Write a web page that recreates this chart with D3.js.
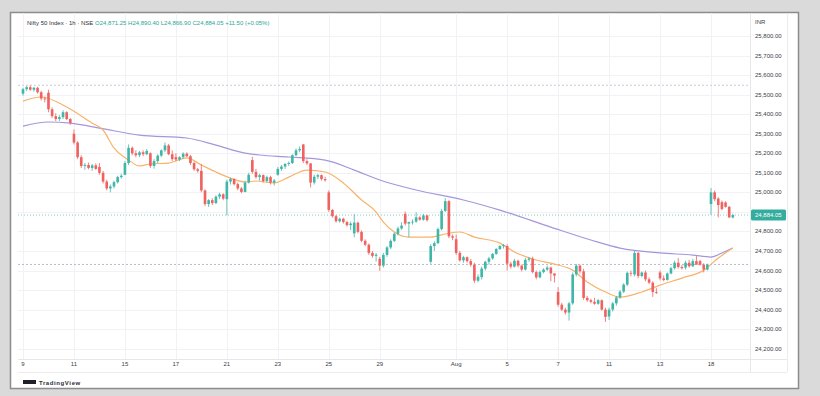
<!DOCTYPE html>
<html>
<head>
<meta charset="utf-8">
<script src="https://cdn.jsdelivr.net/npm/d3@7"></script>
<style>
html,body{margin:0;padding:0;background:#dadada;}
svg{display:block;font-family:"Liberation Sans",Arial,sans-serif;}
</style>
</head>
<body>
<svg id="chart" width="820" height="396"></svg>
<script>
// ---------- DATA ----------
const title = "Nifty 50 Index · 1h · NSE";
const ohlcLabels = ["O24,871.25", "H24,890.40", "L24,866.90", "C24,884.05", "+11.50 (+0.05%)"];
const currency = "INR";
const xTickLabels = ["9", "11", "15", "17", "21", "23", "25", "29", "Aug", "5", "7", "11", "13", "18"];
const xTickBars   = [0, 14, 28, 42, 56, 70, 84, 98, 119, 133, 147, 161, 175, 189];
const yTicks = [25800, 25700, 25600, 25500, 25400, 25300, 25200, 25100, 25000, 24900, 24800, 24700, 24600, 24500, 24400, 24300, 24200];
const lastPrice = 24884.05;
const prevClose = 24631;
const periodHigh = 25548;

// hourly candles [open, high, low, close], 7 per trading day
const opens = [
 25505,25528,25538,25525,25535,25512,25480,
 25510,25425,25390,25375,25385,25410,25375,
 25300,25255,25180,25135,25140,25125,25138,
 25130,25100,25055,25020,25030,25052,25078,
 25090,25150,25228,25200,25190,25205,25195,
 25200,25135,25160,25188,25215,25240,25195,
 25180,25168,25180,25198,25185,25150,25118,
 25110,25010,24940,24960,24945,24978,24990,
 24965,25055,25068,25042,25020,25002,25050,
 25165,25105,25078,25088,25058,25078,25050,
 25090,25120,25132,25145,25150,25190,25215,
 25245,25160,25148,25050,25080,25088,25068,
 25000,24910,24878,24852,24865,24848,24832,
 24790,24845,24798,24752,24732,24690,24675,
 24660,24625,24680,24718,24752,24788,24815,
 24890,24840,24848,24850,24872,24860,24882,
 24645,24725,24740,24812,24905,24955,24775,
 24760,24690,24652,24668,24648,24630,24548,
 24566,24610,24645,24662,24685,24710,24725,
 24725,24635,24620,24650,24625,24605,24655,
 24660,24592,24565,24592,24605,24615,24585,
 24490,24425,24400,24385,24432,24580,24625,
 24596,24460,24448,24440,24430,24448,24400,
 24365,24400,24432,24462,24492,24528,24588,
 24580,24690,24572,24590,24555,24538,24490,
 24590,24560,24552,24585,24612,24640,24618,
 24615,24640,24622,24648,24648,24630,24605,
 24940,25000,24968,24950,24948,24926,24871.25];
const highs = [
 25535,25545,25548,25540,25540,25520,25490,
 25525,25435,25405,25395,25420,25415,25380,
 25322,25262,25190,25150,25152,25145,25148,
 25150,25110,25065,25040,25060,25085,25095,
 25160,25245,25235,25215,25212,25215,25222,
 25205,25170,25195,25220,25255,25248,25215,
 25200,25185,25205,25205,25192,25158,25125,
 25145,25015,24965,24970,24985,24998,24995,
 25065,25075,25072,25050,25028,25060,25100,
 25182,25120,25095,25092,25085,25085,25068,
 25130,25140,25150,25158,25195,25225,25235,
 25248,25170,25150,25090,25095,25092,25080,
 25010,24915,24885,24870,24870,24855,24850,
 24889,24850,24805,24760,24738,24700,24690,
 24670,24690,24725,24760,24795,24825,24847,
 24902,24850,24862,24898,24878,24890,24886,
 24735,24750,24820,24915,24970,24960,24785,
 24784,24700,24675,24672,24660,24640,24580,
 24620,24650,24670,24690,24715,24730,24736,
 24734,24645,24660,24655,24630,24665,24670,
 24671,24600,24600,24612,24625,24620,24585,
 24515,24435,24410,24440,24590,24634,24630,
 24609,24470,24455,24460,24455,24452,24410,
 24410,24440,24470,24500,24535,24595,24600,
 24702,24695,24595,24600,24565,24545,24510,
 24600,24575,24590,24620,24650,24664,24628,
 24650,24655,24660,24674,24655,24638,24635,
 25022,25010,24975,24958,24955,24930,24890.40];
const lows = [
 25495,25518,25520,25515,25505,25470,25460,
 25410,25380,25365,25365,25375,25370,25345,
 25245,25170,25125,25115,25118,25110,25115,
 25090,25045,25010,25000,25020,25045,25070,
 25088,25140,25190,25180,25180,25185,25190,
 25125,25121,25150,25180,25205,25190,25160,
 25160,25160,25172,25180,25140,25110,25100,
 25000,24930,24925,24935,24940,24965,24960,
 24882,25040,25035,25010,24995,25000,25045,
 25095,25070,25060,25050,25050,25040,25035,
 25085,25110,25120,25135,25145,25185,25205,
 25150,25140,25025,25040,25068,25060,25055,
 24900,24870,24845,24845,24840,24825,24807,
 24770,24790,24745,24725,24680,24665,24646,
 24598,24615,24670,24710,24745,24780,24808,
 24830,24771,24835,24845,24855,24855,24850,
 24635,24700,24735,24805,24900,24765,24755,
 24680,24645,24640,24640,24620,24535,24540,
 24554,24600,24630,24655,24680,24705,24712,
 24600,24610,24615,24615,24595,24600,24645,
 24585,24555,24560,24585,24598,24545,24539,
 24415,24392,24375,24344,24425,24570,24585,
 24450,24440,24432,24425,24425,24395,24337,
 24347,24390,24420,24455,24485,24520,24570,
 24570,24560,24565,24545,24530,24465,24480,
 24550,24545,24548,24580,24605,24610,24605,
 24605,24615,24618,24630,24625,24590,24600,
 24885,24955,24872,24908,24922,24868,24866.90];
const closes = [
 25528,25538,25525,25535,25512,25480,25476,
 25425,25390,25375,25385,25410,25375,25355,
 25255,25180,25135,25140,25125,25138,25120,
 25100,25055,25020,25030,25052,25078,25085,
 25150,25228,25200,25190,25205,25195,25212,
 25135,25160,25188,25215,25240,25195,25170,
 25168,25180,25198,25185,25150,25118,25110,
 25010,24940,24960,24945,24978,24990,24968,
 25055,25068,25042,25020,25002,25050,25090,
 25105,25078,25088,25058,25078,25050,25061,
 25120,25132,25145,25150,25190,25215,25222,
 25160,25148,25050,25080,25088,25068,25062,
 24910,24878,24852,24865,24848,24832,24840,
 24845,24798,24752,24732,24690,24675,24681,
 24625,24680,24718,24752,24788,24815,24830,
 24840,24848,24850,24872,24860,24882,24858,
 24725,24740,24812,24905,24955,24775,24768,
 24690,24652,24668,24648,24630,24548,24568,
 24610,24645,24662,24685,24710,24725,24730,
 24635,24620,24650,24625,24605,24655,24662,
 24592,24565,24592,24605,24615,24585,24574,
 24425,24400,24385,24432,24580,24625,24596,
 24460,24448,24440,24430,24448,24400,24363,
 24400,24432,24462,24492,24528,24588,24585,
 24690,24572,24590,24555,24538,24490,24487,
 24560,24552,24585,24612,24640,24618,24612,
 24640,24622,24648,24630,24630,24605,24631,
 25000,24965,24935,24915,24926,24872,24884.05];

// moving averages: [bar index, value]
const fastMaBars = [0,5,12,19,22,25,29,32,35,40,45,49,53,57,61,64,69,73,78,83,88,93,97,99,102,106,112,116,120,124,131,135,141,146,151,155,160,164,170,175,181,187,191,195];
const fastMaVals = [25467,25488,25437,25354,25319,25227,25165,25135,25145,25150,25176,25140,25104,25073,25053,25058,25048,25078,25114,25104,25048,24961,24899,24848,24797,24771,24771,24787,24797,24771,24740,24695,24654,24633,24602,24541,24490,24464,24490,24525,24561,24602,24664,24715];
const slowMaBars = [0,7,13,21,32,45,53,61,65,73,83,91,98,108,121,131,145,156,164,175,184,189,192,195];
const slowMaVals = [25339,25360,25354,25329,25293,25278,25242,25201,25191,25181,25165,25114,25063,25012,24961,24909,24822,24756,24715,24690,24679,24669,24690,24715];

// ---------- DRAW ----------
const svg = d3.select("#chart");
const W = 820, H = 396;
const plotLeft = 18, plotRight = 750, plotTop = 13, plotBottom = 359;

svg.append("rect").attr("x", 0).attr("y", 0).attr("width", W).attr("height", H).attr("fill", "#dadada");
svg.append("rect").attr("x", 10.5).attr("y", 12.5).attr("width", 788).attr("height", 376)
  .attr("fill", "#ffffff").attr("stroke", "#8c8c8c").attr("stroke-width", 1.5);

const candles = opens.map((o, i) => ({i, o, h: highs[i], l: lows[i], c: closes[i]}));
const x = d3.scaleLinear().domain([0, 189]).range([23, 711]);
const y = d3.scaleLinear().domain([24200, 25800]).range([348.7, 36]);
const step = x(1) - x(0);

// grid
const grid = svg.append("g");
grid.selectAll("line.h").data(yTicks).join("line")
  .attr("x1", plotLeft).attr("x2", plotRight)
  .attr("y1", d => Math.round(y(d)) + 0.5).attr("y2", d => Math.round(y(d)) + 0.5)
  .attr("stroke", "#f1f2f5").attr("stroke-width", 1);
grid.selectAll("line.v").data(xTickBars).join("line")
  .attr("x1", d => Math.round(x(d)) + 0.5).attr("x2", d => Math.round(x(d)) + 0.5)
  .attr("y1", plotTop).attr("y2", plotBottom)
  .attr("stroke", "#f1f2f5").attr("stroke-width", 1);

// axes frame lines
svg.append("line").attr("x1", 750.5).attr("x2", 750.5).attr("y1", 13).attr("y2", 372).attr("stroke", "#e6e7ea");
svg.append("line").attr("x1", 787.5).attr("x2", 787.5).attr("y1", 13).attr("y2", 372).attr("stroke", "#ececee");
svg.append("line").attr("x1", plotLeft).attr("x2", 787).attr("y1", 359.5).attr("y2", 359.5).attr("stroke", "#e6e7ea");
svg.append("line").attr("x1", plotLeft).attr("x2", 787).attr("y1", 372.5).attr("y2", 372.5).attr("stroke", "#ececee");

// reference lines
svg.append("line").attr("x1", plotLeft).attr("x2", plotRight)
  .attr("y1", y(periodHigh)).attr("y2", y(periodHigh))
  .attr("stroke", "#c9ccd3").attr("stroke-dasharray", "2,2").attr("stroke-width", 1);
svg.append("line").attr("x1", plotLeft).attr("x2", plotRight)
  .attr("y1", y(prevClose)).attr("y2", y(prevClose))
  .attr("stroke", "#b9bcc4").attr("stroke-dasharray", "2,2").attr("stroke-width", 1);
svg.append("line").attr("x1", plotLeft).attr("x2", plotRight)
  .attr("y1", y(lastPrice)).attr("y2", y(lastPrice))
  .attr("stroke", "#7fcfc6").attr("stroke-dasharray", "1,2").attr("stroke-width", 1);

// moving averages
const line = d3.line().x(d => x(d[0])).y(d => y(d[1])).curve(d3.curveMonotoneX);
svg.append("path").datum(slowMaBars.map((b, k) => [b, slowMaVals[k]]))
  .attr("d", line).attr("fill", "none").attr("stroke", "#a596dc").attr("stroke-width", 1.2);
svg.append("path").datum(fastMaBars.map((b, k) => [b, fastMaVals[k]]))
  .attr("d", line).attr("fill", "none").attr("stroke", "#f8b26a").attr("stroke-width", 1.2);

// candles
const up = "#3fb6a8", down = "#f0625f";
const cg = svg.append("g");
cg.selectAll("line.w").data(candles).join("line")
  .attr("x1", d => x(d.i)).attr("x2", d => x(d.i))
  .attr("y1", d => y(d.h)).attr("y2", d => y(d.l))
  .attr("stroke", d => d.c >= d.o ? up : down).attr("stroke-width", 0.8);
cg.selectAll("rect").data(candles).join("rect")
  .attr("x", d => x(d.i) - step * 0.36)
  .attr("width", step * 0.72)
  .attr("y", d => y(Math.max(d.o, d.c)))
  .attr("height", d => Math.max(0.8, Math.abs(y(d.o) - y(d.c))))
  .attr("fill", d => d.c >= d.o ? up : down);

// y axis labels (labels hidden behind the last-price tag are skipped, as in the reference)
const fmt = d3.format(",.2f");
const visibleTicks = yTicks.filter(d => Math.abs(y(d) - y(lastPrice)) > 9);
svg.append("g").selectAll("text").data(visibleTicks).join("text")
  .attr("x", 755).attr("y", d => y(d) + 2)
  .attr("font-size", 6).attr("fill", "#3a3d45")
  .text(d => fmt(d));
svg.append("text").attr("x", 755).attr("y", 24).attr("font-size", 6).attr("fill", "#3a3d45").text(currency);

// last price tag
svg.append("rect").attr("x", 751).attr("y", y(lastPrice) - 5.5).attr("width", 35).attr("height", 11)
  .attr("rx", 1.5).attr("fill", "#34ad9e");
svg.append("text").attr("x", 755).attr("y", y(lastPrice) + 2).attr("font-size", 6).attr("fill", "#ffffff")
  .text(fmt(lastPrice));

// x axis labels
svg.append("g").selectAll("text").data(xTickBars).join("text")
  .attr("x", d => x(d)).attr("y", 366).attr("text-anchor", "middle")
  .attr("font-size", 6).attr("fill", "#3a3d45")
  .text((d, k) => xTickLabels[k]);

// header
const hdr = svg.append("text").attr("x", 27).attr("y", 25).attr("font-size", 6);
hdr.append("tspan").attr("fill", "#2f323a").text(title + "  ");
ohlcLabels.forEach(t => hdr.append("tspan").attr("fill", "#2aa596").text(t + " "));

// footer logo
svg.append("rect").attr("x", 23).attr("y", 380).attr("width", 13).attr("height", 4).attr("fill", "#1e2129");
svg.append("text").attr("x", 39).attr("y", 384.5).attr("font-size", 6).attr("font-weight", "bold")
  .attr("fill", "#2a2e39").attr("letter-spacing", 0.6).text("TradingView");
</script>
</body>
</html>
